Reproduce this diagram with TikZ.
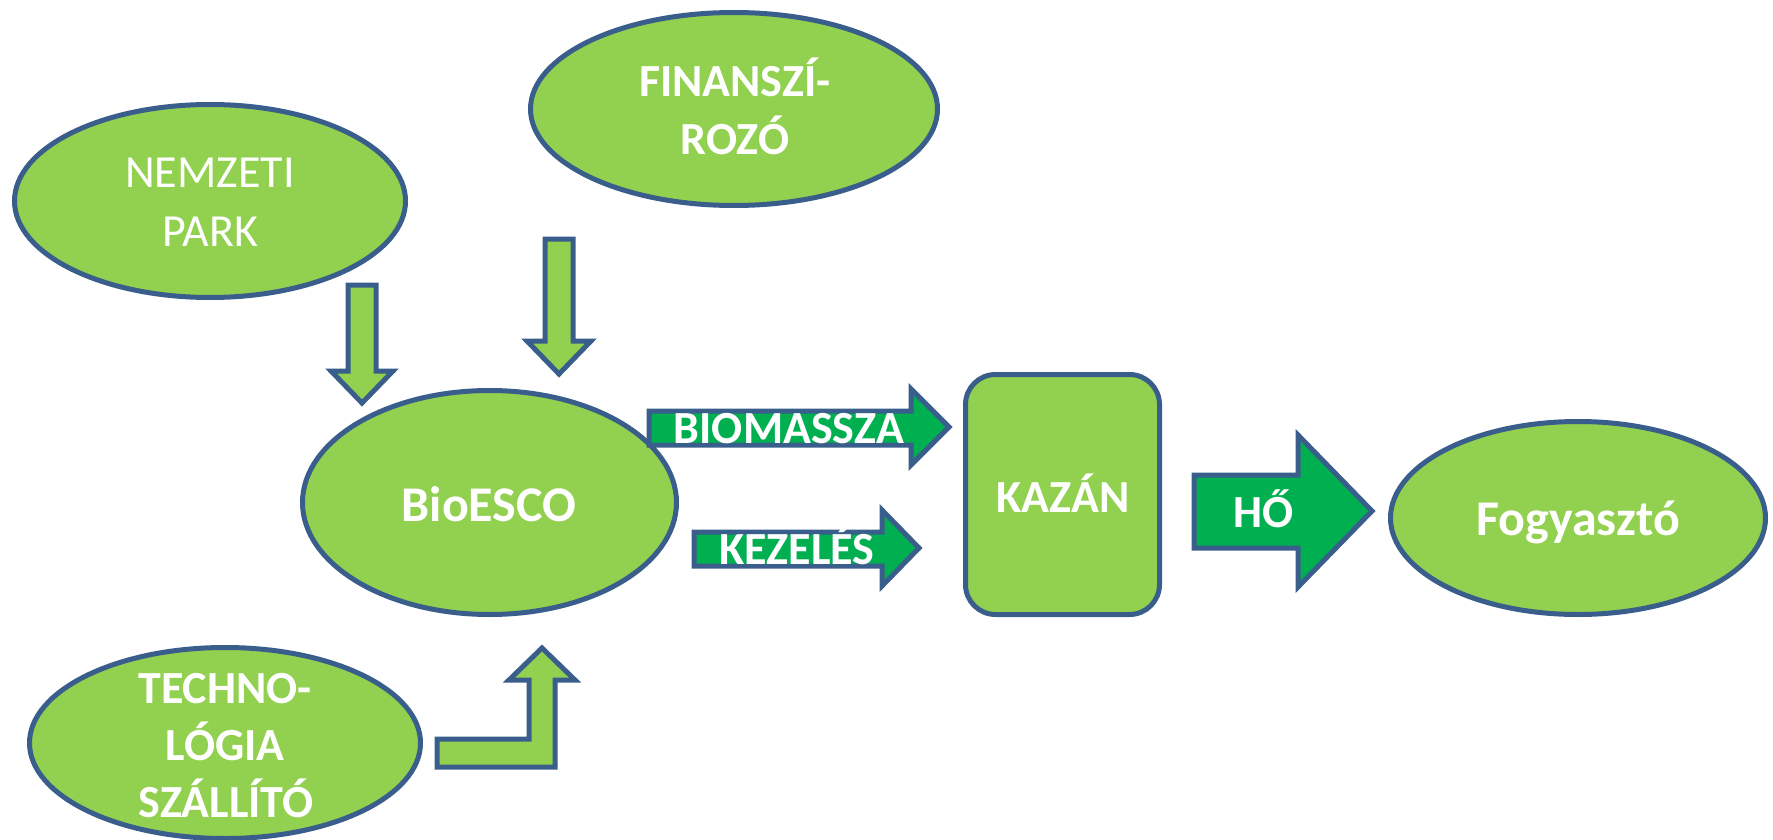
\documentclass[tikz,border=0pt]{standalone}
\usepackage{fontspec}
\setmainfont{Carlito}
\usetikzlibrary{shapes.geometric}
\definecolor{lgreen}{HTML}{92D050}
\definecolor{dgreen}{HTML}{00B050}
\definecolor{edgeblue}{HTML}{3A5E8C}
\begin{document}
\begin{tikzpicture}[x=1pt,y=-1pt,
  oval/.style={ellipse,draw=edgeblue,fill=lgreen,line width=5pt,inner sep=0pt},
  boxshape/.style={rectangle,rounded corners=30pt,draw=edgeblue,fill=lgreen,line width=5pt,inner sep=0pt},
  lightarrow/.style={draw=edgeblue,fill=lgreen,line width=5pt,line join=miter},
  darkarrow/.style={draw=edgeblue,fill=dgreen,line width=5pt,line join=miter},
  lbl/.style={text=white,font=\fontsize{46}{57}\selectfont\bfseries,anchor=base,inner sep=0pt},
  lblreg/.style={text=white,font=\fontsize{46}{57}\selectfont,anchor=base,inner sep=0pt},
  lblbig/.style={text=white,font=\fontsize{50}{60}\selectfont\bfseries,anchor=base,inner sep=0pt}]
\useasboundingbox (0,0) rectangle (1773,840);

% shapes
\node[oval,minimum width=391pt,minimum height=193pt] (nemzeti) at (210,201) {};
\node[oval,minimum width=407pt,minimum height=193pt] (finansz) at (734,109) {};
\node[oval,minimum width=374pt,minimum height=224pt] (bioesco) at (489.5,502.5) {};
\node[oval,minimum width=375pt,minimum height=193pt] (fogy) at (1578,518) {};
\node[oval,minimum width=391pt,minimum height=191pt] (techno) at (225,743) {};
\node[boxshape,minimum width=194pt,minimum height=240pt] (kazan) at (1062.5,494.5) {};

% block arrows
\draw[lightarrow] (348,285) -- (376,285) -- (376,371) -- (393,371) -- (362,403) -- (331,371) -- (348,371) -- cycle;
\draw[lightarrow] (545,239) -- (573,239) -- (573,341) -- (591,341) -- (559,374) -- (527,341) -- (545,341) -- cycle;
\draw[lightarrow] (437,739) -- (529,739) -- (529,680) -- (509,680) -- (542,648) -- (575,680) -- (555,680) -- (555,767) -- (437,767) -- cycle;
\draw[darkarrow] (649,411) -- (911,411) -- (911,389) -- (949,427) -- (911,465) -- (911,445) -- (649,445) -- cycle;
\draw[darkarrow] (694,532) -- (882,532) -- (882,510) -- (919,548) -- (882,586) -- (882,566) -- (694,566) -- cycle;
\draw[darkarrow] (1194,475) -- (1298,475) -- (1298,435) -- (1372,511) -- (1298,587) -- (1298,548) -- (1194,548) -- cycle;

% labels
\node[lblreg] (t1a) at (210,188) {NEMZETI};
\node[lblreg] (t1b) at (210,246) {PARK};
\node[lbl] (t2a) at (735,97) {FINANSZÍ-};
\node[lbl] (t2b) at (735,154) {ROZÓ};
\node[lblbig] (t3) at (489,521) {BioESCO};
\node[lbl] (t4) at (789,443) {BIOMASSZA};
\node[lbl] (t5) at (797,564) {KEZELÉS};
\node[lbl] (t6) at (1063,512) {KAZÁN};
\node[lbl] (t7) at (1264,527) {HŐ};
\node[lblbig] (t8) at (1578,535) {Fogyasztó};
\node[lbl] (t9a) at (225,703) {TECHNO-};
\node[lbl] (t9b) at (225,760) {LÓGIA};
\node[lbl] (t9c) at (226,817) {SZÁLLÍTÓ};
\end{tikzpicture}
\end{document}
